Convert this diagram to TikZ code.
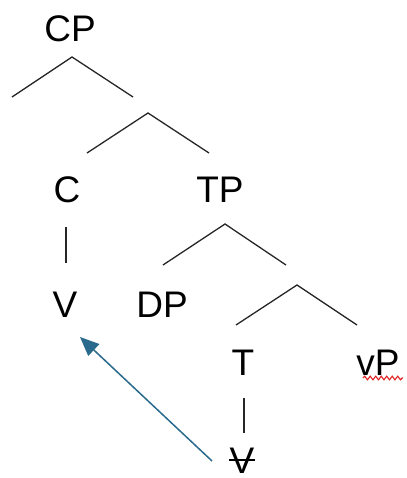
\documentclass[tikz,border=0pt]{standalone}
\usepackage{fontspec}
\setmainfont{Liberation Sans}
\usetikzlibrary{arrows.meta,decorations.pathmorphing}
\definecolor{arrowblue}{HTML}{2A6A8C}
\definecolor{squiggle}{HTML}{E02020}
\begin{document}
\begin{tikzpicture}[x=1pt,y=-1pt,
  lab/.style={anchor=base,inner sep=0pt,font=\fontsize{37}{40}\selectfont},
  branch/.style={line width=1.3pt,black!85},
  bar/.style={line width=1.4pt,black!85},
  mover/.style={line width=1.5pt,arrowblue,-{Triangle[length=19pt,width=16pt]}}]
\useasboundingbox (0,0) rectangle (406,478);
% labels
\node[lab] (CP) at (70,42) {CP};
\node[lab] (C) at (67,202) {C};
\node[lab] (TP) at (220,202) {TP};
\node[lab] (V) at (65,317) {V};
\node[lab] (DP) at (162,317) {DP};
\node[lab] (T) at (243,375) {T};
\node[lab] (vP) at (378,375) {vP};
\node[lab] (Vt) at (242,473) {V};
% branch points
\coordinate (a1) at (72,57);  \coordinate (l1) at (12,97);  \coordinate (r1) at (133,97);
\coordinate (a2) at (148,113); \coordinate (l2) at (87,153); \coordinate (r2) at (209,153);
\coordinate (a3) at (225,224); \coordinate (l3) at (163,265); \coordinate (r3) at (286,265);
\coordinate (a4) at (297,285); \coordinate (l4) at (236,325); \coordinate (r4) at (357,325);
\draw[branch] (l1) -- (a1) -- (r1);
\draw[branch] (l2) -- (a2) -- (r2);
\draw[branch] (l3) -- (a3) -- (r3);
\draw[branch] (l4) -- (a4) -- (r4);
% vertical bars
\coordinate (b1t) at (66,227); \coordinate (b1b) at (66,263);
\coordinate (b2t) at (244,398); \coordinate (b2b) at (244,433);
\draw[bar] (b1t) -- (b1b);
\draw[bar] (b2t) -- (b2b);
% strike through the lower V
\coordinate (s1) at (229,460); \coordinate (s2) at (255,460);
\draw[line width=1.4pt,black] (s1) -- (s2);
% wavy underline under vP
\coordinate (w1) at (363,378); \coordinate (w2) at (403,378);
\draw[squiggle,line width=1.1pt,decorate,decoration={snake,amplitude=1.8pt,segment length=5.5pt}] (w1) -- (w2);
% movement arrow
\coordinate (m0) at (212,461);
\coordinate (m1) at (80,337);
\draw[mover] (m0) -- (m1);
\end{tikzpicture}
\end{document}
